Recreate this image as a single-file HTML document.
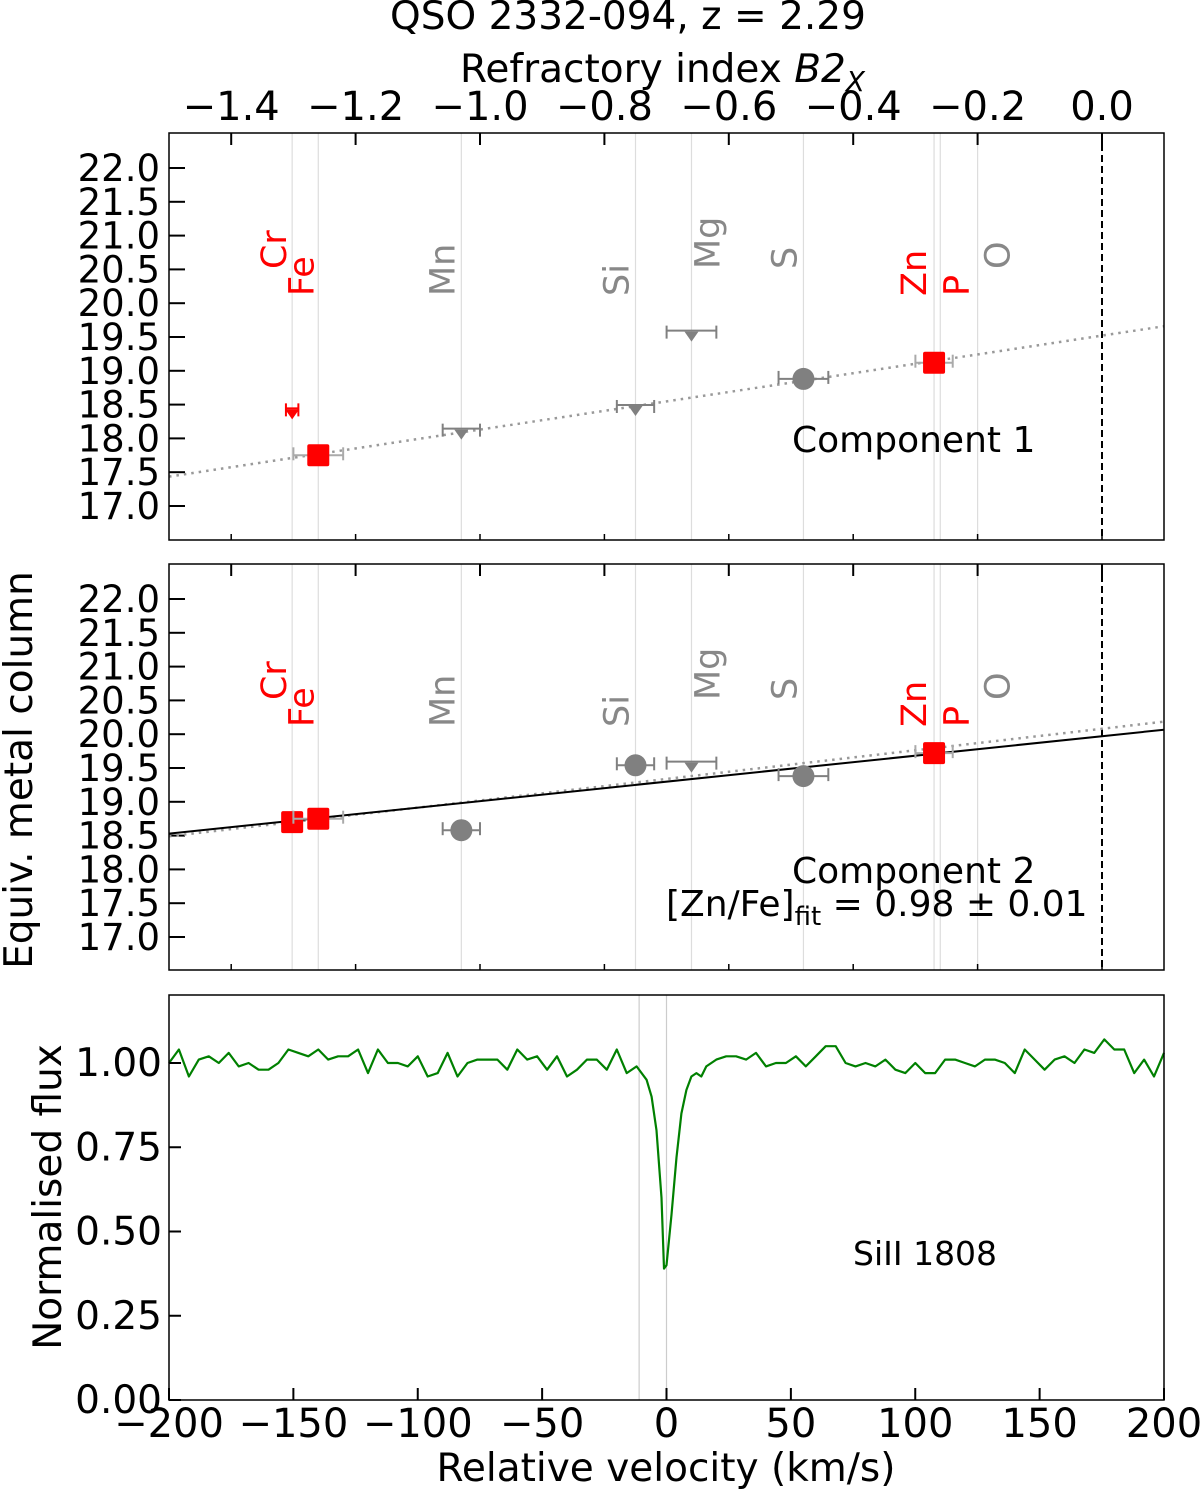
<!DOCTYPE html>
<html><head><meta charset="utf-8"><style>
html,body{margin:0;padding:0;background:#fff;}
svg{display:block;font-family:"DejaVu Sans","Liberation Sans",sans-serif;}
</style></head><body>
<svg id="fig" width="1200" height="1490" viewBox="0 0 1200 1490" xmlns="http://www.w3.org/2000/svg"></svg>
<script>
// ---- data ----
const elements = ["Cr","Fe","Mn","Si","Mg","S","Zn","P","O"];
const elementB2X = [-1.302,-1.26,-1.03,-0.75,-0.66,-0.48,-0.27,-0.26,-0.20];
const elementRed = [true,true,false,false,false,false,true,true,false];
const labelShift = [-17,-16,-18,-18,17,-18,-19,17,21];
const labelLow = [false,true,true,true,false,false,true,true,false];
const comp1Elem = [0,1,2,3,4,5,6];
const comp1Val = [18.40,17.75,18.10,18.45,19.55,18.88,19.12];
const comp1Type = ["lim","sq","lim","lim","lim","circ","sq"];
const comp1Err = [0.01,0.04,0.03,0.03,0.04,0.04,0.03];
const comp1Fit = [0.0, 19.52, 1.39];
const comp2Elem = [0,1,2,3,4,5,6];
const comp2Val = [18.70,18.75,18.58,19.54,19.55,19.38,19.72];
const comp2Type = ["sq","sq","circ","circ","lim","circ","sq"];
const comp2Err = [0.01,0.04,0.03,0.03,0.04,0.04,0.03];
const comp2Solid = [19.97,0.96];
const comp2Dotted = [20.08,1.06];
const topTicks = [-1.4,-1.2,-1.0,-0.8,-0.6,-0.4,-0.2,0.0];
const yTicks = [17.0,17.5,18.0,18.5,19.0,19.5,20.0,20.5,21.0,21.5,22.0];
const velTicks = [-200,-150,-100,-50,0,50,100,150,200];
const fluxTicks = [0.00,0.25,0.50,0.75,1.00];
const vel = [-200,-196,-192,-188,-184,-180,-176,-172,-168,-164,-160,-156,-152,-148,-144,-140,-136,-132,-128,-124,-120,-116,-112,-108,-104,-100,-96,-92,-88,-84,-80,-76,-72,-68,-64,-60,-56,-52,-48,-44,-40,-36,-32,-28,-24,-20,-16,-12,-8,-6,-4,-2,-1,0,2,4,6,8,10,12,14,16,20,24,28,32,36,40,44,48,52,56,60,64,68,72,76,80,84,88,92,96,100,104,108,112,116,120,124,128,132,136,140,144,148,152,156,160,164,168,172,176,180,184,188,192,196,200];
const flux = [1.00,1.04,0.96,1.01,1.02,1.00,1.03,0.99,1.00,0.98,0.98,1.00,1.04,1.03,1.02,1.04,1.01,1.02,1.02,1.04,0.97,1.04,1.00,1.00,0.99,1.02,0.96,0.97,1.03,0.96,1.00,1.01,1.01,1.01,0.98,1.04,1.01,1.02,0.98,1.02,0.96,0.98,1.01,1.01,0.98,1.04,0.97,0.99,0.95,0.90,0.80,0.60,0.39,0.40,0.55,0.72,0.85,0.92,0.96,0.97,0.96,0.99,1.01,1.02,1.02,1.01,1.03,0.99,1.00,1.00,1.02,0.99,1.02,1.05,1.05,1.00,0.99,1.00,0.99,1.01,0.98,0.97,1.00,0.97,0.97,1.01,1.01,1.00,0.99,1.01,1.01,1.00,0.97,1.04,1.01,0.98,1.01,1.02,1.00,1.04,1.03,1.07,1.04,1.04,0.97,1.01,0.96,1.03];
const markerLines = [-11,0];

// ---- layout ----
const NS="http://www.w3.org/2000/svg";
const svg=document.getElementById('fig');
const L=169,R=1164;
const P1={t:133,b:540}, P2={t:564,b:970}, P3={t:995,b:1400};
const bx=v=>1102+v*622;
const ya=(P,v)=>P.t+35+(22-v)*67.6;
const vx=v=>L+(v+200)/400*(R-L);
const fy=f=>1400-f*337;
function mk(tag,attrs,parent,text){const e=document.createElementNS(NS,tag);for(const k in attrs)e.setAttribute(k,attrs[k]);if(text!==undefined)e.textContent=text;(parent||svg).appendChild(e);return e;}
function text(x,y,s,size,anchor,fill,rot){const a={x:x,y:y,'font-size':size,'text-anchor':anchor||'middle',fill:fill||'#000'};if(rot)a.transform=`rotate(-90 ${x} ${y})`;return mk('text',a,svg,s);}

let t=text(628,29,"QSO 2332-094, z = 2.29",39);


t=mk('text',{x:460,y:82,'font-size':39},svg);


mk('tspan',{},t,"Refractory index ");mk('tspan',{'font-style':'italic'},t,"B2");mk('tspan',{'font-style':'italic','font-size':28,dy:9},t,"X");
t=text(32,770,"Equiv. metal column",39,'middle','#000',true);


t=text(61,1197,"Normalised flux",39,'middle','#000',true);


t=text(666,1481,"Relative velocity (km/s)",39);



function elemPanel(P,name){
  const g=mk('g',{});
  
  
  elementB2X.forEach((b,i)=>{mk('line',{x1:bx(b),x2:bx(b),y1:P.t,y2:P.b,stroke:'#ddd','stroke-width':1.2},g);});
  mk('line',{x1:bx(0),x2:bx(0),y1:P.t,y2:P.b,stroke:'#000','stroke-width':2,'stroke-dasharray':'7,4'},g);
  elements.forEach((e,i)=>{const x=bx(elementB2X[i])+labelShift[i]+11;const y=labelLow[i]?P.t+163:P.t+136;
    const tt=mk('text',{x:x,y:y,'font-size':35,fill:elementRed[i]?'#f00':'#888',transform:`rotate(-90 ${x} ${y})`},g,e);
    
    });
  yTicks.forEach(v=>{const y=ya(P,v);mk('line',{x1:L,x2:L+16,y1:y,y2:y,stroke:'#000','stroke-width':2},g);
    mk('text',{x:160,y:y+13,'font-size':37,'text-anchor':'end'},g,v.toFixed(1));});
  topTicks.forEach(v=>{mk('line',{x1:bx(v),x2:bx(v),y1:P.t,y2:P.t+12,stroke:'#000','stroke-width':2},g);
    mk('line',{x1:bx(v),x2:bx(v),y1:P.b,y2:P.b-6,stroke:'#000','stroke-width':1.5},g);});
  return g;
}
function points(P,g,elemIdx,vals,types,errs){
  elemIdx.forEach((ei,i)=>{
    const x=bx(elementB2X[ei]),y=ya(P,vals[i]),red=elementRed[ei],col=red?'#f00':'#808080';
    const ex=errs[i]*622;
    const eg=mk('g',{},g);
    
    
    mk('line',{x1:x-ex,x2:x+ex,y1:y-(types[i]=='lim'?3:0),y2:y-(types[i]=='lim'?3:0),stroke:types[i]=='sq'?'#aaa':col,'stroke-width':2},eg);
    [x-ex,x+ex].forEach(xx=>mk('line',{x1:xx,x2:xx,y1:y-8,y2:y+5,stroke:types[i]=='sq'?'#aaa':col,'stroke-width':2},eg));
    if(types[i]=='sq') mk('rect',{x:x-11,y:y-11,width:22,height:22,fill:'#f00',rx:2},eg);
    else if(types[i]=='circ') mk('circle',{cx:x,cy:y,r:11,fill:'#808080'},eg);
    else mk('path',{d:`M${x-7},${y-2} L${x+7},${y-2} L${x},${y+8} Z`,fill:col},eg);
  });
}
function fitLine(P,g,b0,slope,style,name){
  const v1=b0+slope*(-1.5),v2=b0+slope*0.1;
  const a=style=='dot'?{stroke:'#999','stroke-width':2.5,'stroke-dasharray':'2.5,5'}:{stroke:'#000','stroke-width':2};
  const l=mk('line',Object.assign({x1:L,x2:R,y1:ya(P,v1),y2:ya(P,v2)},a),g);
  
  
}
const cp=mk('clipPath',{id:'c1'});mk('rect',{x:L,y:P1.t,width:R-L,height:P1.b-P1.t},cp);
const cp2=mk('clipPath',{id:'c2'});mk('rect',{x:L,y:P2.t,width:R-L,height:P2.b-P2.t},cp2);
const g1=elemPanel(P1,'component-1-panel');
fitLine(P1,mk('g',{'clip-path':'url(#c1)'},g1),comp1Fit[1],comp1Fit[2],'dot','fit-line-comp1');
points(P1,g1,comp1Elem,comp1Val,comp1Type,comp1Err);
topTicks.forEach(v=>{const tt=text(bx(v),120,(v<0?'\u2212':'')+Math.abs(v).toFixed(1),40);});
mk('text',{x:792,y:452,'font-size':36},g1,"Component 1");

const g2=elemPanel(P2,'component-2-panel');
const gc2=mk('g',{'clip-path':'url(#c2)'},g2);
fitLine(P2,gc2,comp2Dotted[0],comp2Dotted[1],'dot','fit-line-dotted-comp2');
fitLine(P2,gc2,comp2Solid[0],comp2Solid[1],'solid','fit-line-comp2');
points(P2,g2,comp2Elem,comp2Val,comp2Type,comp2Err);
mk('text',{x:792,y:883,'font-size':36},g2,"Component 2");
t=mk('text',{x:666,y:916,'font-size':36},g2);
mk('tspan',{},t,"[Zn/Fe]");mk('tspan',{'font-size':26,dy:9},t,"fit");mk('tspan',{dy:-9},t," = 0.98 \u00b1 0.01");

const g3=mk('g',{});


markerLines.forEach(v=>mk('line',{x1:vx(v),x2:vx(v),y1:P3.t,y2:P3.b,stroke:'#ccc','stroke-width':1.2},g3));
const pts=vel.map((v,i)=>vx(v).toFixed(1)+','+fy(flux[i]).toFixed(1)).join(' ');
const sp=mk('polyline',{points:pts,fill:'none',stroke:'#008000','stroke-width':2.2,'stroke-linejoin':'round'},g3);


fluxTicks.forEach(f=>{const y=fy(f);mk('line',{x1:L,x2:L+12,y1:y,y2:y,stroke:'#000','stroke-width':2},g3);
  mk('text',{x:162,y:y+13,'font-size':39,'text-anchor':'end'},g3,f.toFixed(2));});
velTicks.forEach(v=>{const x=vx(v);mk('line',{x1:x,x2:x,y1:P3.b,y2:P3.b-12,stroke:'#000','stroke-width':2},g3);
  mk('text',{x:x,y:1437,'font-size':40,'text-anchor':'middle'},g3,(v<0?'\u2212':'')+Math.abs(v));});
mk('text',{x:853,y:1265,'font-size':33},g3,"SiII 1808");

[P1,P2,P3].forEach((P,i)=>{const r=mk('rect',{x:L,y:P.t,width:R-L,height:P.b-P.t,fill:'none',stroke:'#000','stroke-width':1.5});
  
  });
</script>
</body></html>
